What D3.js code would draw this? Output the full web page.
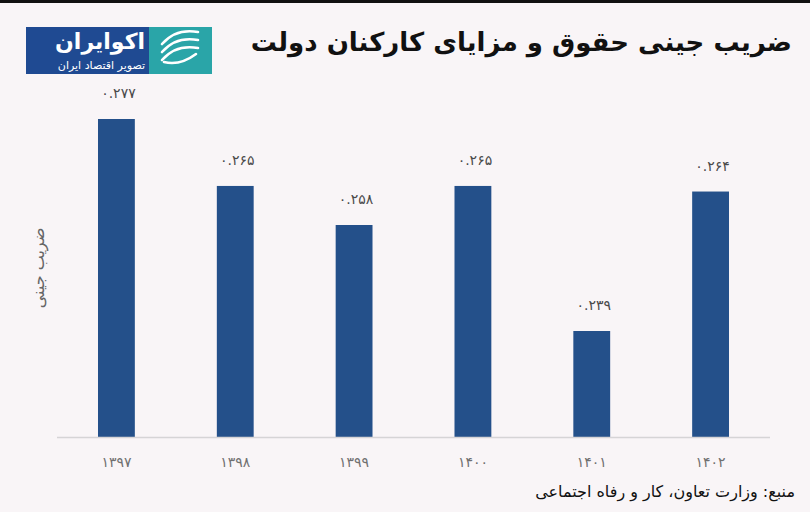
<!DOCTYPE html>
<html><head><meta charset="utf-8">
<script src="https://cdn.jsdelivr.net/npm/d3@7/dist/d3.min.js"></script>
<style>
html,body{margin:0;padding:0;background:#f9f5f7;}
svg{display:block;}
</style></head>
<body>
<svg id="c" width="810" height="512"></svg>
<script>
const years = ["۱۳۹۷","۱۳۹۸","۱۳۹۹","۱۴۰۰","۱۴۰۱","۱۴۰۲"];
const values = [0.277, 0.265, 0.258, 0.265, 0.239, 0.264];
const valueLabels = ["۰.۲۷۷","۰.۲۶۵","۰.۲۵۸","۰.۲۶۵","۰.۲۳۹","۰.۲۶۴"];
const titleText = "ضریب جینی حقوق و مزایای کارکنان دولت";
const yLabel = "ضریب جینی";
const sourceText = "منبع: وزارت تعاون، کار و رفاه اجتماعی";

const svg = d3.select("#c");
const W = 810, H = 512;
svg.append("rect").attr("width", W).attr("height", H).attr("fill", "#f9f5f7");
svg.append("rect").attr("width", W).attr("height", 3).attr("fill", "#111");

const font = "'DejaVu Sans', sans-serif";

const x = d3.scaleBand().domain(years).range([57, 770]).paddingInner(0.69).paddingOuter(0.345);
const y = d3.scaleLinear().domain([0.22, 0.277]).range([437, 119]);

// bars
svg.append("g").selectAll("rect").data(values).join("rect")
  .attr("x", (d, i) => x(years[i]))
  .attr("y", d => y(d))
  .attr("width", x.bandwidth())
  .attr("height", d => y(0.22) - y(d))
  .attr("fill", "#24508a");

// baseline
svg.append("line").attr("x1", 57).attr("x2", 770).attr("y1", 437.5).attr("y2", 437.5)
  .attr("stroke", "#d6d4d6").attr("stroke-width", 1.5);

// x axis labels
const xAxis = d3.axisBottom(x).tickSize(0).tickPadding(20);
const gx = svg.append("g").attr("transform", "translate(0,437)").call(xAxis);
gx.select(".domain").remove();
gx.selectAll("text").attr("font-family", font).attr("font-size", 14).attr("letter-spacing", 2.5).attr("fill", "#707070");

// value labels
svg.append("g").selectAll("text").data(values).join("text")
  .attr("x", (d, i) => x(years[i]) + x.bandwidth() / 2 + 2)
  .attr("y", d => y(d) - 21)
  .attr("text-anchor", "middle")
  .attr("font-family", font).attr("font-size", 14).attr("letter-spacing", 2).attr("fill", "#4a4a4a")
  .text((d, i) => valueLabels[i]);

// y label
svg.append("text")
  .attr("transform", "translate(44,268) rotate(-90)")
  .attr("text-anchor", "middle")
  .attr("font-family", font).attr("font-size", 16).attr("fill", "#666")
  .text(yLabel);

// title
svg.append("text").attr("x", 792).attr("y", 51)
  .attr("text-anchor", "start").attr("direction", "rtl")
  .attr("font-family", font).attr("font-weight", "bold").attr("font-size", 26).attr("fill", "#111")
  .text(titleText);

// source
svg.append("text").attr("x", 795).attr("y", 497)
  .attr("text-anchor", "start").attr("direction", "rtl")
  .attr("font-family", font).attr("font-size", 16).attr("fill", "#111")
  .text(sourceText);

// logo
const logo = svg.append("g");
logo.append("rect").attr("x", 26).attr("y", 27).attr("width", 124).attr("height", 47).attr("fill", "#1f4a92");
logo.append("rect").attr("x", 149).attr("y", 27).attr("width", 63).attr("height", 47).attr("fill", "#2aa5a8");
logo.append("text").attr("x", 145).attr("y", 49).attr("text-anchor", "start").attr("direction", "rtl")
  .attr("font-family", font).attr("font-weight", "bold").attr("font-size", 22).attr("fill", "#fff").text("اکوایران");
logo.append("text").attr("x", 145).attr("y", 69).attr("text-anchor", "start").attr("direction", "rtl")
  .attr("font-family", font).attr("font-size", 11).attr("fill", "#fff").text("تصویر اقتصاد ایران");
const sw = logo.append("g").attr("fill", "none").attr("stroke", "#fff").attr("stroke-width", 2.6).attr("stroke-linecap", "round");
const cx = 180, cy = 50;
[[-12, -8], [-4, 0], [4, 8]].forEach(([a, b]) => {
  sw.append("path").attr("d", `M${cx - 18},${cy + a + 6} Q${cx - 4},${cy + a - 10} ${cx + 18},${cy + b - 10}`);
});
sw.append("path").attr("d", `M${cx - 16},${cy + 12} Q${cx},${cy + 16} ${cx + 16},${cy + 4}`);
</script>
</body></html>
